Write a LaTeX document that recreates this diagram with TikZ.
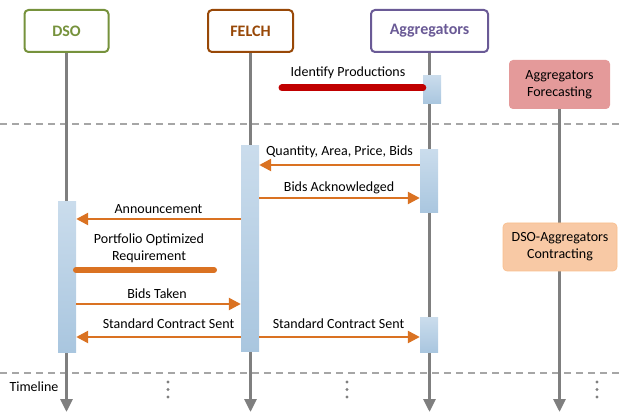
\documentclass[tikz,border=0pt]{standalone}
\usepackage{fontspec}
\setmainfont{Carlito}
\usetikzlibrary{arrows.meta}
\definecolor{dsogreen}{HTML}{76923C}
\definecolor{felchbrown}{HTML}{984807}
\definecolor{aggrpurple}{HTML}{6A5A96}
\definecolor{lifegray}{HTML}{7F7F7F}
\definecolor{dashgray}{HTML}{A6A6A6}
\definecolor{msgorange}{HTML}{DA7222}
\definecolor{prodred}{HTML}{C00000}
\definecolor{forecastfill}{HTML}{E49A9A}
\definecolor{contractfill}{HTML}{F8C9A5}
\definecolor{bartop}{HTML}{CADCEC}
\definecolor{barbottom}{HTML}{A9C6DF}

\begin{document}
\begin{tikzpicture}[x=10pt, y=-10pt,
	actor/.style={draw, line width=2pt, rounded corners=4pt, fill=white, minimum height=42pt, font=\fontsize{16}{19}\selectfont\bfseries},
	phase/.style={rounded corners=4pt, minimum height=48pt, align=center, font=\fontsize{14}{17}\selectfont},
	lifeline/.style={draw=lifegray, line width=3pt, -{Triangle[length=13pt,width=12pt]}},
	actbar/.style={minimum width=18pt, inner sep=0pt, top color=bartop, bottom color=barbottom},
	msg/.style={draw=msgorange, line width=2.5pt, -{Triangle[length=12pt,width=12pt]}},
	msglabel/.style={font=\fontsize{14}{17}\selectfont, align=center},
	sep/.style={draw=dashgray, line width=1.2pt, dash pattern=on 7pt off 5pt}]
			%%%%% START %%%%%
			
			\useasboundingbox (0, 0) rectangle (61.9, 41.4);
			
			\draw[sep] (0, 12.4) -- (61.9, 12.4);
			\draw[sep] (0, 37.3) -- (61.9, 37.3);
			
			\node[actor, draw=dsogreen, text=dsogreen, minimum width=84pt] (dso) at (6.65, 3.1) {DSO};
			\node[actor, draw=felchbrown, text=felchbrown, minimum width=85pt] (felch) at (25.05, 3.1) {FELCH};
			\node[actor, draw=aggrpurple, text=aggrpurple, minimum width=117pt] (aggr) at (42.95, 3.1) {Aggregators};
			\node[phase, fill=forecastfill, minimum width=101pt, minimum height=49pt] (forecast) at (55.95, 8.45) {Aggregators\\Forecasting};
			
			\draw[lifeline] (dso.south) -- (dso.south |- 0, 41.2);
			\draw[lifeline] (felch.south) -- (felch.south |- 0, 41.2);
			\draw[lifeline] (aggr.south) -- (aggr.south |- 0, 41.2);
			\draw[lifeline] (forecast.south) -- (forecast.south |- 0, 41.2);
			
			\node[phase, fill=contractfill, draw=contractfill!85!orange, line width=0.6pt, minimum width=114pt] (contract) at (56, 24.7) {DSO-Aggregators\\Contracting};
			
			\node[actbar, minimum height=28pt] (aggrbar1) at (43.2, 9.0) {};
			\node[actbar, minimum height=63pt] (aggrbar2) at (42.9, 18.15) {};
			\node[actbar, minimum height=34pt] (aggrbar3) at (42.9, 33.5) {};
			\node[actbar, minimum height=206pt] (felchbar) at (25.0, 24.9) {};
			\node[actbar, minimum height=150pt] (dsobar) at (6.7, 27.7) {};
			
			\node[msglabel] (identify) at (34.8, 7.3) {Identify Productions};
			\draw[draw=prodred, line width=7pt, line cap=round] (aggrbar1.west |- 0, 8.8) -- (28.2, 8.8);
			
			\node[msglabel] (quantity) at (33.95, 15.2) {Quantity, Area, Price, Bids};
			\draw[msg] (aggrbar2.west |- 0, 16.5) -- (felchbar.east |- 0, 16.5);
			
			\node[msglabel] (acknowledged) at (33.9, 18.8) {Bids Acknowledged};
			\draw[msg] (felchbar.east |- 0, 19.8) -- (aggrbar2.west |- 0, 19.8);
			
			\node[msglabel] (announce) at (15.85, 20.9) {Announcement};
			\draw[msg] (felchbar.west |- 0, 21.9) -- (dsobar.east |- 0, 21.9);
			
			\node[msglabel] (portfolio) at (14.9, 24.85) {Portfolio Optimized\\Requirement};
			\draw[draw=msgorange, line width=6pt, line cap=round] (7.6, 27.0) -- (21.4, 27.0);
			
			\node[msglabel] (taken) at (15.7, 29.4) {Bids Taken};
			\draw[msg] (dsobar.east |- 0, 30.4) -- (felchbar.west |- 0, 30.4);
			
			\node[msglabel] (contractleft) at (16.85, 32.4) {Standard Contract Sent};
			\draw[msg] (felchbar.west |- 0, 33.7) -- (dsobar.east |- 0, 33.7);
			
			\node[msglabel] (contractright) at (33.85, 32.4) {Standard Contract Sent};
			\draw[msg] (felchbar.east |- 0, 33.7) -- (aggrbar3.west |- 0, 33.7);
			
			\node[msglabel, anchor=west] (timeline) at (0.6, 38.7) {Timeline};
			\foreach \xx in {16.8, 34.7, 59.7}
				\foreach \yy in {38.2, 38.95, 39.7}
					\fill[lifegray] (\xx, \yy) circle (1.6pt);
			
			%%%%% END %%%%%
\end{tikzpicture}
\end{document}
